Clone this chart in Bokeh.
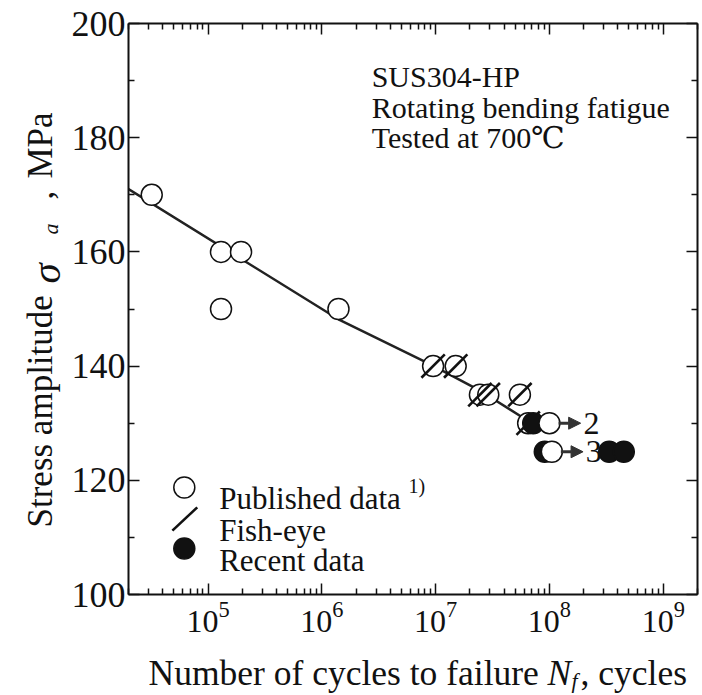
import math
from bokeh.plotting import figure
from bokeh.layouts import row, column
from bokeh.models import (LogAxis, LinearAxis, Range1d, FixedTicker, Label, Arrow,
                          NormalHead, CustomJSTickFormatter)
from bokeh.core.properties import value
from bokeh.embed import file_html
from bokeh.resources import INLINE

# ---------------- data ----------------
pub_n = [3.2e4, 1.3e5, 1.95e5, 1.3e5, 1.4e6, 9.5e6, 1.5e7, 2.45e7, 2.9e7, 5.5e7, 6.5e7]
pub_s = [170, 160, 160, 150, 150, 140, 140, 135, 135, 135, 130]
fish_n = [9.5e6, 1.5e7, 2.45e7, 2.9e7, 5.5e7, 6.5e7]
fish_s = [140, 140, 135, 135, 135, 130]
runout_n = [1.0e8, 1.05e8]
runout_s = [130, 125]
runout_count = ["2", "3"]
recent_n = [7.2e7, 9.1e7, 3.35e8, 4.5e8]
recent_s = [130, 125, 125, 125]
curve_n = [2e4, 1.4e6, 9e6, 2.5e7, 7e7]
curve_s = [171, 148.2, 140.3, 135.6, 130]
x_ticks = [1e5, 1e6, 1e7, 1e8, 1e9]
y_ticks = [100, 120, 140, 160, 180, 200]
y_minor = [110, 130, 150, 170, 190]
X_MIN, X_MAX = 2e4, 2e9
Y_MIN, Y_MAX = 100, 200

# ---------------- layout ----------------
W, H = 702, 695
LW = 68            # width of the y-title strip
BH = 55            # height of the x-title strip
FL, FR, FT, FB = 126, 697, 23, 594   # plot frame in page pixels
SERIF = "Liberation Serif"
INK = "#111111"

LX0, LX1 = math.log10(X_MIN), math.log10(X_MAX)


def cx(px):
    return 10 ** (LX0 + (px - FL) / (FR - FL) * (LX1 - LX0))


def cy(py):
    return Y_MIN + (FB - py) / (FB - FT) * (Y_MAX - Y_MIN)


PW, PH = W - LW, H - BH
p = figure(width=PW, height=PH, x_axis_type="log",
           x_range=Range1d(X_MIN, X_MAX), y_range=Range1d(Y_MIN, Y_MAX),
           output_backend="svg", toolbar_location=None,
           min_border_left=FL - LW, min_border_right=W - FR,
           min_border_top=FT, min_border_bottom=PH - FB)
p.frame_align = False
p.grid.visible = False
p.outline_line_color = None
p.background_fill_color = "white"
p.border_fill_color = "white"

x_minor = [m * 10 ** k for k in range(4, 10) for m in range(2, 10)
           if X_MIN <= m * 10 ** k <= X_MAX]
xt = FixedTicker(ticks=x_ticks, minor_ticks=x_minor)
yt = FixedTicker(ticks=y_ticks, minor_ticks=y_minor)


def style(ax):
    ax.axis_line_width = 2
    ax.axis_line_color = INK
    ax.major_tick_in = 11
    ax.major_tick_out = 0
    ax.minor_tick_in = 6
    ax.minor_tick_out = 0
    ax.major_tick_line_width = 1.5
    ax.minor_tick_line_width = 1.5
    ax.major_tick_line_color = INK
    ax.minor_tick_line_color = INK


xa = p.xaxis[0]
xa.ticker = xt
style(xa)
xa.major_label_text_font = SERIF
xa.major_label_text_font_size = "32px"
xa.major_label_text_color = INK
xa.major_label_standoff = 7

ya = p.yaxis[0]
ya.ticker = yt
style(ya)
ya.major_label_text_font = SERIF
ya.major_label_text_font_size = "36px"
ya.major_label_text_color = INK
ya.major_label_standoff = 3

top = LogAxis(ticker=xt, formatter=CustomJSTickFormatter(code="return ''"),
              major_label_text_font_size="1px", major_label_standoff=0)
style(top)
right = LinearAxis(ticker=yt, formatter=CustomJSTickFormatter(code="return ''"),
                   major_label_text_font_size="1px", major_label_standoff=0)
style(right)
p.add_layout(top, "above")
p.add_layout(right, "right")

# ---------------- marks ----------------
p.line(curve_n, curve_s, line_color="#222222", line_width=2.5)

p.scatter(pub_n, pub_s, marker="circle", size=21, fill_color="white",
          line_color=INK, line_width=1.5)
p.scatter(fish_n, fish_s, marker="dash", size=33, angle=math.pi / 4,
          line_color=INK, line_width=2.6)
p.scatter(recent_n, recent_s, marker="circle", size=21, fill_color=INK,
          line_color=INK, line_width=1.5)
p.scatter(runout_n, runout_s, marker="circle", size=21, fill_color="white",
          line_color=INK, line_width=1.5)

for n, s in zip(runout_n, runout_s):
    p.add_layout(Arrow(end=NormalHead(size=12, fill_color="#333333", line_color="#333333"),
                       x_start=n * 1.2, y_start=s, x_end=n * 1.88, y_end=s,
                       line_color="#333333", line_width=3))
p.text([n * 1.99 for n in runout_n], runout_s, text=runout_count,
       text_font=value(SERIF), text_font_size="32px", text_color=INK,
       text_baseline="middle", text_align="left")

# ---------------- legend (inside the frame) ----------------
p.scatter([cx(182)], [cy(487)], marker="circle", size=21, fill_color="white",
          line_color=INK, line_width=1.5)
p.scatter([cx(182.5)], [cy(518.5)], marker="dash", size=34, angle=math.radians(43),
          line_color=INK, line_width=2.6)
p.scatter([cx(182)], [cy(548)], marker="circle", size=21, fill_color=INK,
          line_color=INK, line_width=1.5)


def lab(px, py, text, size, italic=False, font=SERIF):
    p.add_layout(Label(x=cx(px), y=cy(py), text=text, text_font=font,
                       text_font_size=f"{size}px", text_color=INK,
                       text_font_style="italic" if italic else "normal",
                       text_align="left", text_baseline="alphabetic"))


lab(217, 498, "Published data", 31)
lab(407, 485, "1)", 20)
lab(217, 530, "Fish-eye", 31)
lab(217, 560, "Recent data", 31)

lab(370, 76, "SUS304-HP", 30)
lab(370, 107, "Rotating bending fatigue", 30)
lab(370, 137, "Tested at 700\u2103", 30, font="'Liberation Serif', 'DejaVu Serif'")


# ---------------- axis titles (separate strips, page pixel coordinates) ----------------
def strip(w, h, x0, y0):
    f = figure(width=w, height=h, x_range=Range1d(x0, x0 + w), y_range=Range1d(y0 + h, y0),
               output_backend="svg", toolbar_location=None, min_border=0,
               x_axis_type=None, y_axis_type=None)
    f.frame_align = False
    f.grid.visible = False
    f.outline_line_color = None
    f.background_fill_color = "white"
    f.border_fill_color = "white"
    return f


def put(f, px, py, text, size, italic=False, angle=0.0):
    f.text([px], [py], text=[text], text_font=value(SERIF), text_font_size=f"{size}px",
           text_color=INK, text_font_style="italic" if italic else "normal",
           text_align="left", text_baseline="alphabetic", angle=angle)


ly = strip(LW, H, 0, 0)
R = math.pi / 2
put(ly, 40, 527, "Stress amplitude", 35, angle=R)
put(ly, 45, 283, "\u03c3", 41, italic=True, angle=R)
put(ly, 50, 234, "a", 22, italic=True, angle=R)
put(ly, 40, 199, ",", 35, angle=R)
put(ly, 40, 178, "MPa", 35, angle=R)

lx = strip(PW, BH, LW, PH)
put(lx, 148, 672, "Number of cycles to failure", 35.5)
put(lx, 547, 672, "N", 35.5, italic=True)
put(lx, 571, 680, "f", 22, italic=True)
put(lx, 580, 672, ", cycles", 35.5)

layout = row(ly, column(p, lx))
open("out.html", "w").write(file_html(layout, INLINE))
